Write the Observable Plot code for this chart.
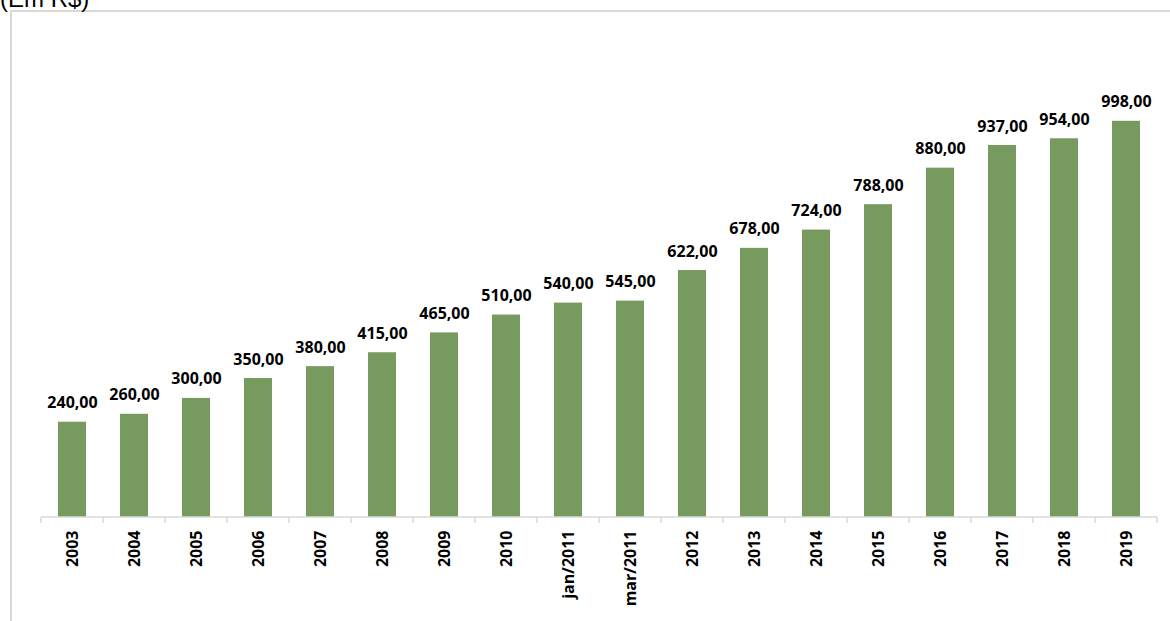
<!DOCTYPE html>
<html>
<head>
<meta charset="utf-8">
<script src="https://cdn.jsdelivr.net/npm/d3@7"></script>
<script src="https://cdn.jsdelivr.net/npm/@observablehq/plot@0.6"></script>
<style>
  body { margin: 0; background: #fff; }
  #wrap { position: relative; width: 1170px; height: 621px; overflow: hidden; background: #fff; }
  #title { position: absolute; left: 0; top: -13px; font: 24px/24px "Liberation Sans", Arial, sans-serif; color: #000; white-space: nowrap; }
  #frame { position: absolute; left: 10px; top: 10px; width: 1200px; height: 700px; border-left: 2px solid #d9d9d9; border-top: 2px solid #d9d9d9; box-sizing: border-box; }
  #chart { position: absolute; left: 0; top: 0; }
</style>
</head>
<body>
<div id="wrap">
  <div id="frame"></div>
  <div id="title">(Em R$)</div>
  <div id="chart"></div>
</div>
<script>
const categories = ["2003","2004","2005","2006","2007","2008","2009","2010","jan/2011","mar/2011","2012","2013","2014","2015","2016","2017","2018","2019"];
const values = [240,260,300,350,380,415,465,510,540,545,622,678,724,788,880,937,954,998];
const valueLabels = ["240,00","260,00","300,00","350,00","380,00","415,00","465,00","510,00","540,00","545,00","622,00","678,00","724,00","788,00","880,00","937,00","954,00","998,00"];

const data = categories.map((c, i) => ({cat: c, value: values[i], label: valueLabels[i]}));

function boundaryTicks(index, scales, channels, dims) {
  const x = scales.x;
  const step = x.step ? x.step() : x.bandwidth();
  const y0 = scales.y(0);
  const g = d3.create("svg:g");
  const edges = categories.map(c => x(c) - (step - x.bandwidth()) / 2);
  edges.push(edges[edges.length - 1] + step);
  g.append("line")
    .attr("x1", edges[0]).attr("x2", edges[edges.length - 1])
    .attr("y1", y0).attr("y2", y0)
    .attr("stroke", "#d9d9d9").attr("stroke-width", 1.5);
  for (const e of edges) {
    g.append("line")
      .attr("x1", e).attr("x2", e)
      .attr("y1", y0).attr("y2", y0 + 6)
      .attr("stroke", "#d9d9d9").attr("stroke-width", 1.5);
  }
  return g.node();
}

const plot = Plot.plot({
  width: 1170,
  height: 621,
  marginLeft: 39,
  marginRight: 11,
  marginTop: 120,
  marginBottom: 104,
  style: {background: "transparent", fontFamily: "'Open Sans', 'Noto Sans', sans-serif"},
  x: {domain: categories, paddingInner: 0.55, paddingOuter: 0.275, align: 0.5},
  y: {domain: [0, 1000], axis: null},
  marks: [
    Plot.barY(data, {x: "cat", y: "value", fill: "#779b5f"}),
    boundaryTicks,
    Plot.text(data, {x: "cat", y: "value", text: "label", lineAnchor: "bottom", dy: -14, fontWeight: "bold", fontSize: 16, fill: "#000"}),
    Plot.axisX({tickSize: 0, tickPadding: 13, tickRotate: -90, fontWeight: "bold", fontSize: 16, fill: "#000", label: null})
  ]
});
document.getElementById("chart").appendChild(plot);
</script>
</body>
</html>
